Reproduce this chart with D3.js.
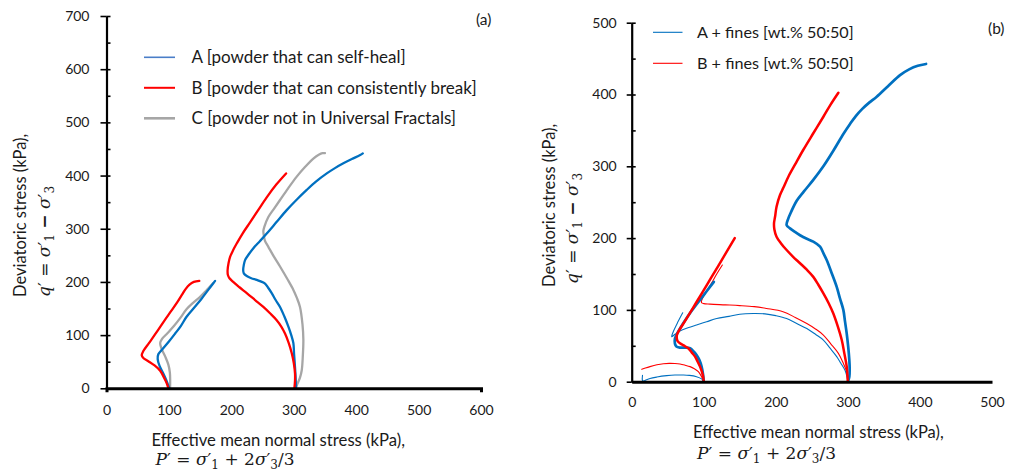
<!DOCTYPE html>
<html>
<head>
<meta charset="utf-8">
<script src="https://cdn.jsdelivr.net/npm/d3@7"></script>
<style>
  body { margin: 0; background: #fff; }
  svg text { font-family: Lato, "Open Sans", sans-serif; fill: #1a1a1a; }
</style>
</head>
<body>
<svg width="1019" height="473"></svg>
<script>
// ---- Data (kPa) ----

// panel (a) ticks
const aXTicks = [0, 100, 200, 300, 400, 500, 600];
const aYTicks = [0, 100, 200, 300, 400, 500, 600, 700];
const aYMinor = [50, 150, 250, 350, 450, 550, 650];

// panel (a) series, [p', q']
const aBlue100 = [[100.6,0],[96,15],[91,28],[85,42],[82,55],[83,64],[88.5,72],[100,88],[110,103],[119,117],[128,134],[140,151],[152,168],[163,185],[174,202]];
const aRed100 = [[99,0],[97,8],[93,18],[86,33],[77,43],[67,51],[59,57],[56.5,62],[59,70],[68,85],[80,105],[92,126],[104,146],[114,163],[121,176],[127,187],[133,195],[140,200],[148.7,202]];
const aGrey100 = [[101.8,0],[102,15],[101.5,30],[99,45],[94,60],[88,75],[86,85],[89,93],[98,104],[108,117],[118,132],[128.5,149],[140,162],[150,172],[160,184],[171,198]];
const aBlue300 = [[303.7,0],[303,20],[302,40],[300.5,65],[299.4,85],[296,100],[291.4,116],[285,135],[278,153],[271,166],[264.7,179],[259,189],[254,197],[247,201],[240.7,204],[232,207],[224.7,211],[220,216],[219,222],[220,232],[222,241],[228,252],[235,263],[246,277],[256.7,291],[272,312],[288.7,335],[305,355],[320.8,373],[336,389],[352.9,404],[366,414],[379.5,423],[393,431],[406.4,438.5],[410.6,441.7]];
const aRed300 = [[301,0],[302,14],[302,28],[300,48],[296.8,66],[292,85],[286,103],[280,116],[272.7,128],[262,141],[251.3,153],[238,166],[224.7,179],[213,190],[203,200],[197,207],[194.5,213],[194,222],[195.5,235],[198,247],[203,260],[209,273],[218,291],[230,312],[243,335],[256.7,359],[272,383],[287.7,404]];
const aGrey300 = [[303,0],[306,9],[310,20],[312.8,34],[314.5,60],[315.4,91],[314,120],[310,153],[305,170],[299.4,185],[290,205],[278,229],[268,248],[259.3,266],[254,277],[252.4,285],[251.3,296],[253,304],[259.3,322],[268,337],[278,354],[291,376],[304.8,398],[318,416],[331.4,432],[340,439],[346,442],[350,442]];

const aLegend = ["A [powder that can self-heal]", "B [powder that can consistently break]", "C [powder not in Universal Fractals]"];

// panel (b) ticks
const bXTicks = [0, 100, 200, 300, 400, 500];
const bYTicks = [0, 100, 200, 300, 400, 500];
const bYMinor = [50, 150, 250, 350, 450];

// panel (b) series: thick = coarse powder, thin = + fines
const bBlueThick100 = [[100,0],[99,10],[97,21],[94,30],[90,37],[86,42],[81,46.5],[74,47.5],[67,47.5],[62,49],[60,53],[60,60],[62,65],[64.7,70],[72,82],[82,97],[94,113],[104,126],[114,139]];
const bRedThick100 = [[100,0],[99,8],[97,15],[94.8,21],[91,29],[87.9,35],[83,41],[78.6,46.5],[72,50.5],[67,53.5],[63.5,57],[62.5,61],[63,66],[75,86],[90,111],[105,136],[120,161],[143,200]];
const bBlueThin100 = [[100,0],[97,4],[90,7],[80,8.8],[71.6,9.3],[60,9.3],[48.6,8.4],[35,6.5],[25.4,4.5],[19,2],[16,0.8],[14.8,2],[15,9]];
const bRedThin100 = [[100,0],[97,7],[92.5,14],[87,18],[81,21],[74,23],[67,24.6],[60,25.3],[52,25.5],[44,25],[35,23.5],[25.4,21],[19,19],[14,17.2]];
const bBlueThin300 = [[300,0],[298.5,8],[296,16],[290,26],[284.5,35],[275,47],[266,58],[255,66],[243,74],[229,81],[215,88],[200,92],[185,94.5],[168.8,95],[150,94],[135,91],[118,88],[104,83.5],[90,79],[78,75],[67,70.6],[60,66],[55.5,62.7],[57.7,69.6],[64,83],[70.8,96]];
const bRedThin300 = [[300,0],[298.4,14],[293,27],[286.8,39.5],[276,53],[266,65],[255,73.5],[243,81],[227,89.5],[210,97.5],[187,102],[170,104.5],[150,106],[130,107],[108.7,108],[100,108.7],[97,110],[97,113],[101,121],[110,136],[118,150],[125.8,162.5]];
const bBlueThick300 = [[300,0],[302,7],[302.5,18],[302,30],[300.5,48],[298.4,67],[296,84],[293.7,100],[289,116],[284.5,132],[278,150],[270.6,169.5],[266,179],[261.4,188],[252,195],[243,199],[233.6,204],[226,209],[219.7,213.6],[215,218],[217.4,227.5],[221,236],[229,252],[239,265],[252,281],[266,300],[280,322],[293.7,345],[303,359],[311,370],[320,380],[330,389],[340,397],[356,412],[372.4,427],[385,435],[397,440],[408.5,442.5]];
const bRedThick300 = [[300,0],[299.8,2],[298.4,21],[295,40],[291.5,58],[286,77],[279.8,95],[273,110],[266,123],[259,135],[252,146],[243,156],[233.6,165],[224,174],[215,183.4],[207,193],[201,202],[198,212],[197.5,220.6],[199,230],[201,243.7],[205.8,260],[210.4,270],[217.4,285.5],[227,303],[238,322.7],[252,346],[266,369],[276,386],[286.8,402.5]];

const bLegend = ["A + fines [wt.% 50:50]", "B + fines [wt.% 50:50]"];

// ---- Canvas ----
const svg = d3.select("svg");

const BLUE = "#0070C0", RED = "#FF0000", GREY = "#A6A6A6";

// scales
const xA = d3.scaleLinear().domain([0, 600]).range([106.5, 481]);
const yA = d3.scaleLinear().domain([0, 700]).range([388.3, 16]);
const xB = d3.scaleLinear().domain([0, 500]).range([631.7, 992]);
const yB = d3.scaleLinear().domain([0, 500]).range([381.7, 22.7]);

function drawCurves(x, y, list) {
    const line = d3.line()
        .x(d => x(d[0]))
        .y(d => y(d[1]))
        .curve(d3.curveCatmullRom.alpha(0.5));
    svg.append("g")
        .selectAll("path")
        .data(list)
        .join("path")
            .attr("d", d => line(d.data))
            .attr("fill", "none")
            .attr("stroke", d => d.color)
            .attr("stroke-width", d => d.w)
            .attr("stroke-linecap", "round")
            .attr("stroke-linejoin", "round");
}

function drawAxes(x, y, xt, yt, ym, o) {
    // y axis, labelled ticks pointing out
    const gy = svg.append("g")
        .attr("transform", `translate(${x(0)},0)`)
        .call(d3.axisLeft(y).tickValues(yt).tickSize(o.tickOut).tickSizeOuter(0).tickPadding(o.yPad));
    // small inside ticks (major + minor)
    const gy2 = svg.append("g")
        .attr("transform", `translate(${x(0)},0)`)
        .call(d3.axisRight(y).tickValues(yt.concat(ym)).tickSize(o.tickIn).tickSizeOuter(0).tickFormat(""));
    gy2.select(".domain").remove();

    const gx = svg.append("g")
        .attr("transform", `translate(0,${y(0)})`)
        .call(d3.axisBottom(x).tickValues(xt).tickSize(0).tickSizeOuter(o.xOuter).tickPadding(o.xPad));

    [gy, gy2, gx].forEach(g => g.attr("font-family", null).attr("font-size", null));
    svg.selectAll(".tick text").style("font-size", "14px");
    svg.selectAll(".tick line").attr("stroke", "#000").attr("stroke-width", 1.6);
    gy.select(".domain").attr("stroke", "#000").attr("stroke-width", 2.2);
    gx.select(".domain").attr("stroke", "#000").attr("stroke-width", o.xw);
}

// rich text: parts are [string, kind]; kind "i" italic, "s" subscript, "b" bold
function mathText(x, y, parts, rotate) {
    const t = svg.append("text")
        .attr("transform", rotate ? `translate(${x},${y}) rotate(-90)` : `translate(${x},${y})`)
        .style("font-family", '"DejaVu Serif", "Liberation Serif", serif')
        .style("font-size", "17px");
    let shifted = false;
    parts.forEach(([s, k]) => {
        const sp = t.append("tspan").text(s);
        if (k === "i") sp.style("font-style", "italic");
        if (k === "s") {
            sp.style("font-size", "12px");
            if (!shifted) { sp.attr("dy", 4); shifted = true; }
        } else if (shifted) {
            sp.attr("dy", -4);
            shifted = false;
        }
        if (k === "b") sp.style("font-weight", "bold");
    });
}

const pParts = [["P", "i"], ["′ = ", ""], ["σ", "i"], ["′", ""], ["1", "s"], [" + 2", ""], ["σ", "i"], ["′", ""], ["3", "s"], ["/3", ""]];
const qParts = [["q", "i"], ["′ = ", ""], ["σ", "i"], ["′", ""], ["1", "s"], [" ", ""], ["−", "b"], [" ", ""], ["σ", "i"], ["′", ""], ["3", "s"]];

// ---- Panel (a) ----
drawCurves(xA, yA, [
    { data: aGrey100, color: GREY, w: 2.3 },
    { data: aGrey300, color: GREY, w: 2.3 },
    { data: aBlue100, color: BLUE, w: 2.3 },
    { data: aBlue300, color: BLUE, w: 2.3 },
    { data: aRed100, color: RED, w: 2.3 },
    { data: aRed300, color: RED, w: 2.3 }
]);
drawAxes(xA, yA, aXTicks, aYTicks, aYMinor, { tickOut: 6, tickIn: 4, yPad: 11, xPad: 17, xOuter: 4, xw: 3 });

const legA = svg.append("g").selectAll("g")
    .data(aLegend)
    .join("g")
        .attr("transform", (d, i) => `translate(144,${57.3 + i * 30.5})`);
legA.append("line")
    .attr("x2", 31)
    .attr("stroke", (d, i) => ["#4A7EC8", RED, GREY][i])
    .attr("stroke-width", (d, i) => [1.6, 2, 2.6][i]);
legA.append("text")
    .attr("x", 47.5)
    .attr("dy", "0.36em")
    .style("font-size", "17px")
    .text(d => d);

svg.append("text").attr("x", 476).attr("y", 25).style("font-size", "15.5px").text("(a)");

svg.append("text").attr("x", 151.5).attr("y", 446).style("font-size", "16.7px")
    .text("Effective mean normal stress (kPa),");
mathText(155.5, 465, pParts, false);
svg.append("text").attr("transform", "translate(26,297) rotate(-90)").style("font-size", "16.5px")
    .text("Deviatoric stress (kPa),");
mathText(50, 297, qParts, true);

// ---- Panel (b) ----
drawCurves(xB, yB, [
    { data: bBlueThin100, color: BLUE, w: 1.1 },
    { data: bRedThin100, color: RED, w: 1.1 },
    { data: bBlueThin300, color: BLUE, w: 1.1 },
    { data: bRedThin300, color: RED, w: 1.1 },
    { data: bBlueThick100, color: BLUE, w: 2.7 },
    { data: bBlueThick300, color: BLUE, w: 2.7 },
    { data: bRedThick100, color: RED, w: 2.5 },
    { data: bRedThick300, color: RED, w: 2.5 }
]);
drawAxes(xB, yB, bXTicks, bYTicks, bYMinor, { tickOut: 5, tickIn: 4, yPad: 10, xPad: 15, xOuter: 0, xw: 3 });

const legB = svg.append("g").selectAll("g")
    .data(bLegend)
    .join("g")
        .attr("transform", (d, i) => `translate(653,${32.3 + i * 31})`);
legB.append("line")
    .attr("x2", 29.5)
    .attr("stroke", (d, i) => [BLUE, RED][i])
    .attr("stroke-width", 1.1);
legB.append("text")
    .attr("x", 44)
    .attr("dy", "0.36em")
    .style("font-size", "16.2px")
    .text(d => d);

svg.append("text").attr("x", 988).attr("y", 34).style("font-size", "15.5px").text("(b)");

svg.append("text").attr("x", 693).attr("y", 438).style("font-size", "16.5px")
    .text("Effective mean normal stress (kPa),");
mathText(697, 459, pParts, false);
svg.append("text").attr("transform", "translate(555,287) rotate(-90)").style("font-size", "16.5px")
    .text("Deviatoric stress (kPa),");
mathText(578, 284, qParts, true);
</script>
</body>
</html>
